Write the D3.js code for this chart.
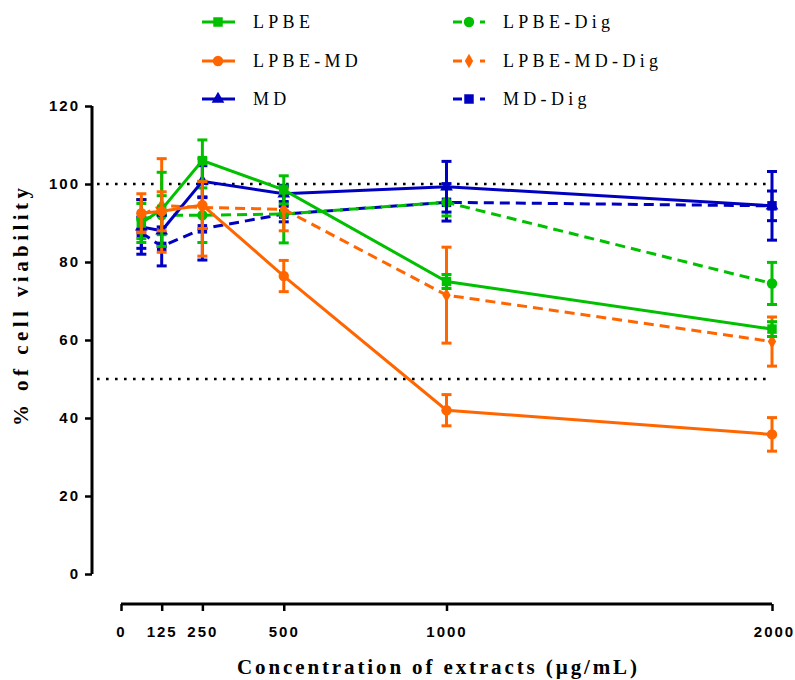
<!DOCTYPE html>
<html>
<head>
<meta charset="utf-8">
<script src="https://cdn.jsdelivr.net/npm/d3@7"></script>
<style>
  body { margin: 0; background: #fff; }
  svg { display: block; }
  .tick-lbl { font-family: "Liberation Sans", Arial, sans-serif; font-weight: bold; font-size: 15px; letter-spacing: 2px; }
  .serif { font-family: "Liberation Serif", "Times New Roman", serif; }
</style>
</head>
<body>
<svg id="chart" width="795" height="680"></svg>
<script>
// concentrations (ug/mL)
var conc = [62.5, 125, 250, 500, 1000, 2000];
var xTicks = [0, 125, 250, 500, 1000, 2000];
var yTicks = [0, 20, 40, 60, 80, 100, 120];
var refLines = [100, 50];

// % viability, mean and error per series
var lpbe         = [90, 93.5, 106, 98.5, 75, 62.8];
var lpbeErr      = [5, 9.5, 5.3, 3.6, 1.8, 1.9];
var lpbeMd       = [92.5, 93, 94.6, 76.4, 42, 35.8];
var lpbeMdErr    = [5, 5, 6, 4, 4, 4.3];
var md           = [89, 88, 100.7, 97.5, 99.3, 94.4];
var mdErr        = [7, 4, 4, 2, 6.5, 3.8];
var lpbeDig      = [91, 92, 92, 92.3, 95.3, 74.5];
var lpbeDigErr   = [5, 5, 7, 7.4, 3.5, 5.4];
var lpbeMdDig    = [92, 94.5, 94, 93.5, 71.5, 59.6];
var lpbeMdDigErr = [4, 12, 12.5, 5.5, 12.3, 6.3];
var mdDig        = [87.5, 84, 88.5, 92.3, 95.3, 94.4];
var mdDigErr     = [4, 5, 8, 2, 4.8, 8.8];

var GREEN = "#00c000", ORANGE = "#ff6600", BLUE = "#0000c0";

var series = [
  {name: "MD-Dig", vals: mdDig, err: mdDigErr, color: BLUE, dash: true, sym: "square", col: 1, row: 2},
  {name: "LPBE-Dig", vals: lpbeDig, err: lpbeDigErr, color: GREEN, dash: true, sym: "circle", col: 1, row: 0},
  {name: "LPBE-MD-Dig", vals: lpbeMdDig, err: lpbeMdDigErr, color: ORANGE, dash: true, sym: "diamond", col: 1, row: 1},
  {name: "MD", vals: md, err: mdErr, color: BLUE, dash: false, sym: "triangle", col: 0, row: 2},
  {name: "LPBE", vals: lpbe, err: lpbeErr, color: GREEN, dash: false, sym: "square", col: 0, row: 0},
  {name: "LPBE-MD", vals: lpbeMd, err: lpbeMdErr, color: ORANGE, dash: false, sym: "circle", col: 0, row: 1}
];

var svg = d3.select("#chart");

var x = d3.scaleLinear().domain([0, 2000]).range([121, 772]);
var y = d3.scaleLinear().domain([0, 120]).range([574, 106]);
var axisX = 92, axisY = 604;

var symGen = {
  square: d3.symbol().type(d3.symbolSquare).size(90),
  circle: d3.symbol().type(d3.symbolCircle).size(85),
  diamond: d3.symbol().type(d3.symbolDiamond).size(60),
  triangle: d3.symbol().type(d3.symbolTriangle).size(70)
};

// reference dotted lines
svg.selectAll(".ref").data(refLines).enter().append("line")
  .attr("x1", axisX + 5).attr("x2", x(2000))
  .attr("y1", d => y(d)).attr("y2", d => y(d))
  .attr("stroke", "#000").attr("stroke-width", 2.6)
  .attr("stroke-dasharray", "2.6,6.4");

// y axis
var yAxis = d3.axisLeft(y).tickValues(yTicks).tickSize(7).tickPadding(5);
var gy = svg.append("g").attr("transform", "translate(" + axisX + ",0)").call(yAxis);
gy.select(".domain").attr("stroke-width", 3).attr("d", "M0," + y(0) + "V" + y(120));
gy.selectAll(".tick line").attr("stroke-width", 2.5);
gy.selectAll("text").attr("class", "tick-lbl").attr("fill", "#000");

// x axis
var xAxis = d3.axisBottom(x).tickValues(xTicks).tickFormat(d3.format("d")).tickSize(7).tickPadding(15);
var gx = svg.append("g").attr("transform", "translate(0," + axisY + ")").call(xAxis);
gx.select(".domain").attr("stroke-width", 3).attr("d", "M" + x(0) + ",0H" + x(2000));
gx.selectAll(".tick line").attr("stroke-width", 2.5);
gx.selectAll("text").attr("class", "tick-lbl").attr("fill", "#000");
gx.selectAll(".tick").filter(d => d === 2000).select("text").attr("dx", 2);

// axis titles
svg.append("text").attr("class", "serif")
  .attr("transform", "translate(28,307) rotate(-90)")
  .attr("text-anchor", "middle")
  .attr("font-size", 21).attr("font-weight", "bold")
  .attr("textLength", 238).attr("lengthAdjust", "spacing")
  .text("% of cell viability");

svg.append("text").attr("class", "serif")
  .attr("x", 437).attr("y", 674)
  .attr("text-anchor", "middle")
  .attr("font-size", 21).attr("font-weight", "bold")
  .attr("textLength", 400).attr("lengthAdjust", "spacing")
  .text("Concentration of extracts (\u00b5g/mL)");

// series
var line = d3.line().x(d => x(d[0])).y(d => y(d[1]));

series.forEach(function(s) {
  var pts = conc.map((c, i) => [c, s.vals[i], s.err[i]]);
  var g = svg.append("g");

  g.append("path").datum(pts)
    .attr("d", line)
    .attr("fill", "none")
    .attr("stroke", s.color)
    .attr("stroke-width", 3)
    .attr("stroke-dasharray", s.dash ? "10,6" : null);

  var eb = g.selectAll(".eb").data(pts).enter().append("g");
  eb.append("line")
    .attr("x1", d => x(d[0])).attr("x2", d => x(d[0]))
    .attr("y1", d => y(d[1] - d[2])).attr("y2", d => y(d[1] + d[2]))
    .attr("stroke", s.color).attr("stroke-width", 3);
  [-1, 1].forEach(function(k) {
    eb.append("line")
      .attr("x1", d => x(d[0]) - 5).attr("x2", d => x(d[0]) + 5)
      .attr("y1", d => y(d[1] + k * d[2])).attr("y2", d => y(d[1] + k * d[2]))
      .attr("stroke", s.color).attr("stroke-width", 3);
  });

  g.selectAll(".mk").data(pts).enter().append("path")
    .attr("d", symGen[s.sym])
    .attr("transform", d => "translate(" + x(d[0]) + "," + y(d[1]) + ")")
    .attr("fill", s.color);
});

// legend
var legRowY = [22, 61, 99];
var leg = svg.append("g");
series.forEach(function(s) {
  var ly = legRowY[s.row];
  var g = leg.append("g");
  if (s.col === 0) {
    g.append("line").attr("x1", 202).attr("x2", 235).attr("y1", ly).attr("y2", ly)
      .attr("stroke", s.color).attr("stroke-width", 3);
    g.append("path").attr("d", symGen[s.sym])
      .attr("transform", "translate(218," + ly + ")").attr("fill", s.color);
    g.append("text").attr("class", "serif")
      .attr("x", 253).attr("y", ly + 6).attr("font-size", 18)
      .attr("letter-spacing", 4.3).text(s.name);
  } else {
    g.append("line").attr("x1", 453).attr("x2", 462).attr("y1", ly).attr("y2", ly)
      .attr("stroke", s.color).attr("stroke-width", 3);
    g.append("line").attr("x1", 480).attr("x2", 485).attr("y1", ly).attr("y2", ly)
      .attr("stroke", s.color).attr("stroke-width", 3);
    g.append("path").attr("d", symGen[s.sym])
      .attr("transform", "translate(469," + ly + ")").attr("fill", s.color);
    g.append("text").attr("class", "serif")
      .attr("x", 503).attr("y", ly + 6).attr("font-size", 18)
      .attr("letter-spacing", 4.3).text(s.name);
  }
});
</script>
</body>
</html>
